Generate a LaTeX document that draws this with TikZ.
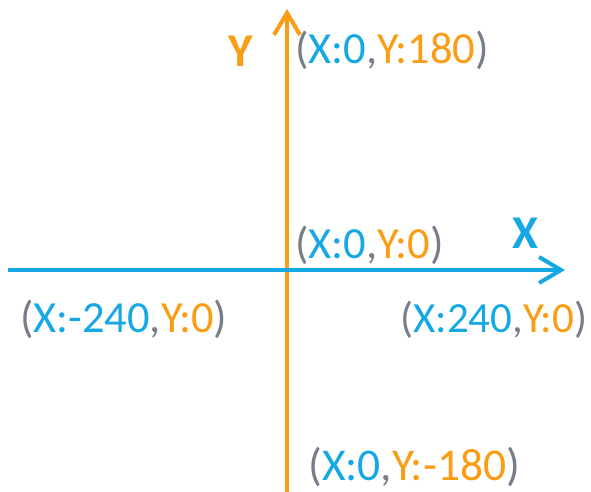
\documentclass[tikz,border=0pt]{standalone}
\usepackage{fontspec}
\setmainfont{Carlito}
\usetikzlibrary{arrows.meta}
\definecolor{axblue}{RGB}{22,168,228}
\definecolor{axorange}{RGB}{250,156,20}
\definecolor{pgray}{RGB}{118,126,138}
\tikzset{
  axisline/.style={line width=4pt,-{Straight Barb[length=22pt,width=26pt,line width=4pt]}},
  coordlabel/.style={anchor=base west,inner sep=0pt,font=\fontsize{44.5}{44.5}\selectfont},
  axislabel/.style={anchor=base,inner sep=0pt,font=\fontsize{47}{47}\selectfont\bfseries},
}
\newcommand{\pg}[1]{\textcolor{pgray}{#1}}
\newcommand{\bx}[1]{\textcolor{axblue}{#1}}
\newcommand{\oy}[1]{\textcolor{axorange}{#1}}
\begin{document}
\begin{tikzpicture}[x=1pt,y=-1pt]
\useasboundingbox (0,0) rectangle (591,492);
\coordinate (xs) at (8,270);
\coordinate (xe) at (565,270);
\coordinate (ys) at (287,492);
\coordinate (ye) at (287,9);
\draw[axisline,draw=axorange] (ys) -- (ye);
\draw[axisline,draw=axblue] (xs) -- (xe);
\node[axislabel,text=axorange] (ylab) at (241,67) {Y};
\node[axislabel,text=axblue] (xlab) at (525,248) {X};
\node[coordlabel] (top) at (295,64) {\pg{(}\bx{X:0}\pg{,}\oy{Y:180}\pg{)}};
\node[coordlabel] (orig) at (295,258) {\pg{(}\bx{X:0}\pg{,}\oy{Y:0}\pg{)}};
\node[coordlabel] (left) at (20,332) {\pg{(}\bx{X:-240}\pg{,}\oy{Y:0}\pg{)}};
\node[coordlabel,font=\fontsize{43}{43}\selectfont] (right) at (400,332) {\pg{(}\bx{X:240}\pg{,}\oy{Y:0}\pg{)}};
\node[coordlabel,font=\fontsize{45.5}{45.5}\selectfont] (bot) at (308,480) {\pg{(}\bx{X:0}\pg{,}\oy{Y:-180}\pg{)}};
\end{tikzpicture}
\end{document}
